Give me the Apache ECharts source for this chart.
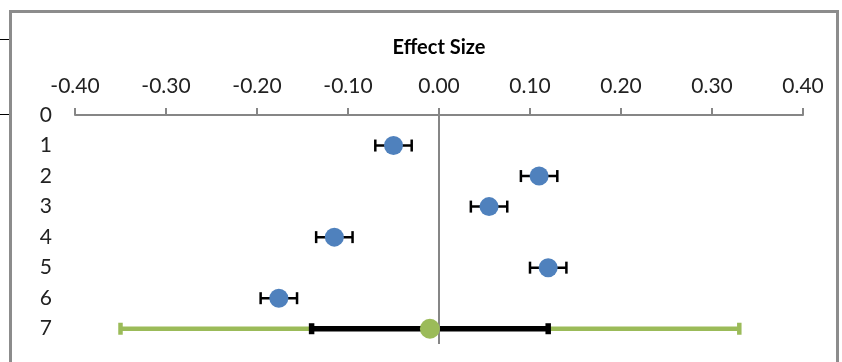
<!DOCTYPE html>
<html>
<head>
<meta charset="utf-8">
<script src="https://cdn.jsdelivr.net/npm/echarts@6/dist/echarts.min.js"></script>
<style>html,body{margin:0;padding:0;background:#fff;}#c{width:842px;height:362px;}</style>
</head>
<body>
<div id="c"></div>
<script>
// ---- data ----
var studyRows = [1, 2, 3, 4, 5, 6];
var effects   = [-0.05, 0.11, 0.055, -0.115, 0.12, -0.176];
var lowerCI   = [-0.07, 0.09, 0.035, -0.135, 0.10, -0.196];
var upperCI   = [-0.03, 0.13, 0.075, -0.095, 0.14, -0.156];
var summaryRow = 7;
var summaryEffect = -0.01;
var summaryCI = [-0.14, 0.12];
var summaryPI = [-0.35, 0.33];
var xTicks = [-0.4, -0.3, -0.2, -0.1, 0, 0.1, 0.2, 0.3, 0.4];
var yTicks = [0, 1, 2, 3, 4, 5, 6, 7];

var FONT = 'Lato';
var chart = echarts.init(document.getElementById('c'));

function barRenderer(lineWidth, capHalf, color) {
  return function (params, api) {
    var y = api.value(0), lo = api.value(1), hi = api.value(2);
    var p1 = api.coord([lo, y]);
    var p2 = api.coord([hi, y]);
    return {
      type: 'group',
      children: [
        {type: 'line', shape: {x1: p1[0], y1: p1[1], x2: p2[0], y2: p2[1]}, style: {stroke: color, lineWidth: lineWidth}},
        {type: 'line', shape: {x1: p1[0], y1: p1[1] - capHalf, x2: p1[0], y2: p1[1] + capHalf}, style: {stroke: color, lineWidth: lineWidth}},
        {type: 'line', shape: {x1: p2[0], y1: p2[1] - capHalf, x2: p2[0], y2: p2[1] + capHalf}, style: {stroke: color, lineWidth: lineWidth}}
      ]
    };
  };
}

var errData = studyRows.map(function (r, i) { return [r, lowerCI[i], upperCI[i]]; });
var pointData = studyRows.map(function (r, i) { return [effects[i], r]; });

chart.setOption({
  animation: false,
  backgroundColor: '#fff',
  grid: {left: 75, right: 39, top: 115, bottom: 18},
  xAxis: {
    type: 'value', position: 'top',
    min: xTicks[0], max: xTicks[xTicks.length - 1], interval: 0.1,
    name: 'Effect Size', nameLocation: 'middle', nameGap: 57,
    nameTextStyle: {fontFamily: FONT, fontWeight: 'bold', fontSize: 20, color: '#000'},
    axisLine: {show: true, lineStyle: {color: '#868686', width: 2}},
    axisTick: {show: true, length: 7, lineStyle: {color: '#868686', width: 2}},
    splitLine: {show: false},
    axisLabel: {
      fontFamily: FONT, fontSize: 21, color: '#222', margin: 18,
      formatter: function (v) { return v.toFixed(2); }
    }
  },
  yAxis: {
    type: 'value', inverse: true, min: 0, max: 7.5, interval: 1,
    axisLine: {show: false}, axisTick: {show: false}, splitLine: {show: false},
    axisLabel: {
      fontFamily: FONT, fontSize: 21, color: '#222', margin: 23,
      showMaxLabel: false,
      formatter: function (v) { return yTicks.indexOf(v) >= 0 ? String(v) : ''; }
    }
  },
  graphic: [
    {type: 'rect', shape: {x: 10.5, y: 11.5, width: 827, height: 400}, style: {fill: 'none', stroke: '#8c8c8c', lineWidth: 3}, z: 100},
    {type: 'line', shape: {x1: 0, y1: 39.5, x2: 9, y2: 39.5}, style: {stroke: '#000', lineWidth: 1}},
    {type: 'line', shape: {x1: 0, y1: 114.5, x2: 9, y2: 114.5}, style: {stroke: '#000', lineWidth: 1}}
  ],
  series: [
    {
      type: 'custom', z: 2,
      renderItem: barRenderer(4.5, 6, '#9BBB59'),
      encode: {x: [1, 2], y: 0},
      data: [[summaryRow, summaryPI[0], summaryPI[1]]]
    },
    {
      type: 'custom', z: 3,
      renderItem: barRenderer(5.5, 5.5, '#000'),
      encode: {x: [1, 2], y: 0},
      data: [[summaryRow, summaryCI[0], summaryCI[1]]]
    },
    {
      type: 'custom', z: 3,
      renderItem: barRenderer(2.5, 6, '#000'),
      encode: {x: [1, 2], y: 0},
      data: errData
    },
    {
      type: 'scatter', z: 5, symbolSize: 19,
      itemStyle: {color: '#4F81BD', opacity: 1},
      data: pointData,
      markLine: {
        silent: true, symbol: 'none', label: {show: false},
        lineStyle: {color: '#868686', width: 2, type: 'solid'},
        data: [{xAxis: 0}]
      }
    },
    {
      type: 'scatter', z: 6, symbolSize: 20,
      itemStyle: {color: '#9BBB59', opacity: 1},
      data: [[summaryEffect, summaryRow]]
    }
  ]
});
</script>
</body>
</html>
